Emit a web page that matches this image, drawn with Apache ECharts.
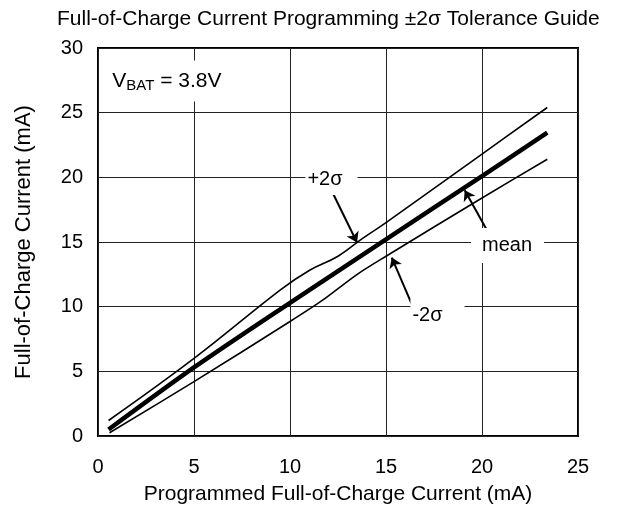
<!DOCTYPE html>
<html lang="en">

<head>
    <meta charset="UTF-8">
    <title>Full-of-Charge Current Programming</title>
</head>

<body style="margin:0">
    <div id="main" style="width: 619px; height:514px"></div>
    <script src="https://cdn.jsdelivr.net/npm/echarts@6/dist/echarts.min.js"></script>
    <script type="text/javascript">
        // values (mA)
        var upperX = [0.55, 5, 9.5, 11, 12.5, 13.8, 15, 20, 23.4];
        var upperY = [1.2, 6.0, 11.3, 12.8, 13.9, 15.3, 16.5, 21.8, 25.4];
        var meanX = [0.55, 5, 10, 15, 20, 23.4];
        var meanY = [0.5, 5.3, 10.3, 15.2, 20.1, 23.45];
        var lowerX = [0.6, 5, 10, 11.7, 13.5, 15, 20, 23.4];
        var lowerY = [0.25, 4.2, 8.85, 10.5, 12.5, 13.9, 18.4, 21.4];

        function pairs(xs, ys) {
            return xs.map(function (x, i) { return [x, ys[i]]; });
        }

        var font = 'Arial, "Liberation Sans", sans-serif';
        var myChart = echarts.init(document.getElementById('main'));

        function arrow(from, to) {
            return [{ coord: from, symbol: 'none' }, { coord: to, symbol: 'arrow' }];
        }

        function note(text, coord, pad) {
            return {
                coord: coord,
                symbolSize: 0,
                label: {
                    show: true,
                    position: 'inside',
                    formatter: text,
                    color: '#000',
                    fontSize: 20,
                    fontFamily: font,
                    backgroundColor: '#fff',
                    padding: pad
                }
            };
        }

        var option = {
            animation: false,
            title: {
                text: 'Full-of-Charge Current Programming \u00b12\u03c3 Tolerance Guide',
                left: 52,
                top: 4,
                textStyle: { fontSize: 21, fontWeight: 'normal', color: '#000', fontFamily: font }
            },
            grid: {
                left: 98, right: 41, top: 48, bottom: 78,
                show: true, borderColor: '#000', borderWidth: 2
            },
            xAxis: {
                type: 'value', min: 0, max: 25, interval: 5,
                name: 'Programmed Full-of-Charge Current (mA)',
                nameLocation: 'middle', nameGap: 48,
                nameTextStyle: { fontSize: 21, color: '#000', fontFamily: font },
                axisLine: { show: false },
                axisTick: { show: false },
                axisLabel: { fontSize: 20, color: '#000', margin: 21, fontFamily: font },
                splitLine: { lineStyle: { color: '#222', width: 1 } }
            },
            yAxis: {
                type: 'value', min: 0, max: 30, interval: 5,
                name: 'Full-of-Charge Current (mA)',
                nameLocation: 'middle', nameGap: 63,
                nameTextStyle: { fontSize: 22, color: '#000', fontFamily: font },
                axisLine: { show: false },
                axisTick: { show: false },
                axisLabel: { fontSize: 20, color: '#000', margin: 15, fontFamily: font },
                splitLine: { lineStyle: { color: '#222', width: 1 } }
            },
            series: [{
                name: '+2\u03c3', type: 'line', data: pairs(upperX, upperY),
                smooth: 0.4, showSymbol: false,
                lineStyle: { color: '#000', width: 1.6 }
            }, {
                name: 'mean', type: 'line', data: pairs(meanX, meanY),
                smooth: 0.3, showSymbol: false,
                lineStyle: { color: '#000', width: 4.5 },
                markLine: {
                    silent: true,
                    symbolSize: 10,
                    label: { show: false },
                    lineStyle: { color: '#000', width: 2, type: 'solid' },
                    data: [
                        arrow([12.24, 18.75], [13.49, 14.96]),
                        arrow([20.26, 15.9], [19.1, 19.0]),
                        arrow([16.34, 10.2], [15.3, 13.8])
                    ]
                },
                markPoint: {
                    silent: true,
                    data: [
                        note('+2\u03c3', [12.16, 19.84], [6, 15, 5, 2]),
                        note('mean', [21.33, 14.73], [7, 12, 8, 11]),
                        note('-2\u03c3', [17.68, 9.3], [8, 22, 6, 2]),
                        {
                            coord: [3.59, 27.45],
                            symbolSize: 0,
                            label: {
                                show: true, position: 'inside',
                                formatter: '{v|V}{s|BAT}{v| = 3.8V}',
                                backgroundColor: '#fff',
                                padding: [8, 6, 8, 6],
                                rich: {
                                    v: { fontSize: 21, color: '#000', fontFamily: font },
                                    s: { fontSize: 15, color: '#000', fontFamily: font, padding: [10, 0, 0, 0] }
                                }
                            }
                        }
                    ]
                }
            }, {
                name: '-2\u03c3', type: 'line', data: pairs(lowerX, lowerY),
                smooth: 0.3, showSymbol: false,
                lineStyle: { color: '#000', width: 1.6 }
            }]
        };
        myChart.setOption(option);

        window.onresize = function () {
            myChart.resize();
        };
    </script>

</body>

</html>
